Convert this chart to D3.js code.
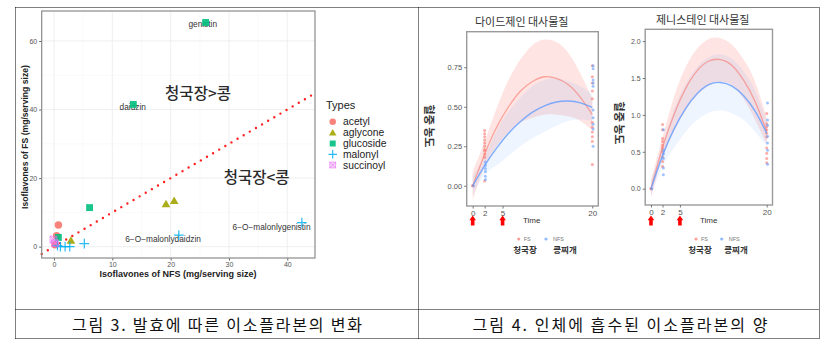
<!DOCTYPE html>
<html><head><meta charset="utf-8">
<script src="https://cdn.jsdelivr.net/npm/d3@7"></script>
<style>body{margin:0;background:#fff}</style>
</head><body><svg id="c" width="833" height="350"></svg>
<script>
// ---------- Figure 3 data ----------
const types = ["acetyl","aglycone","glucoside","malonyl","succinoyl"];
const typeColors = ["#F8766D","#A3A500","#00BF7D","#00B0F6","#E76BF3"];
const ptType = ["acetyl","acetyl","acetyl","aglycone","aglycone","aglycone","glucoside","glucoside","glucoside","glucoside",
                "malonyl","malonyl","malonyl","malonyl","malonyl","malonyl","malonyl","succinoyl","succinoyl"];
const ptNFS  = [0.75,0.45,0.2, 2.9,19.2,20.6, 26.0,13.6,6.1,0.75, 5.2,42.5,21.4,0.6,1.1,1.9,2.7, -0.1,0.17];
const ptFS   = [6.3,3.2,0.6,   1.75,12.4,13.4, 65.4,41.5,11.4,2.7, 0.9,7.0,3.4,0.3,0.0,0.0,0.0, 2.1,1.0];
const labelText = ["genistin","daidzin","6\u2212O\u2212malonlydaidzin","6\u2212O\u2212malonlygenistin"];
const labelNFS  = [25.5,13.5,18.7,37.3];
const labelFS   = [64.9,40.8,2.2,5.8];
const regionText = ["청국장>콩","청국장<콩"];
const regionNFS  = [24.7,34.75];
const regionFS   = [45.2,20.7];
const xTicks3 = [0,10,20,30,40];
const yTicks3 = [0,20,40,60];

// ---------- Figure 4 data ----------
const timeTicks = [0,2,5,20];
const arrowTimes = [0,5];
const curveT = [0,2,4,6,8,10,12,14,16,18,20];
const daidFS    = [0,0.20,0.37,0.50,0.60,0.66,0.69,0.68,0.64,0.56,0.45];
const daidFSlo  = [-0.09,0.12,0.25,0.34,0.40,0.43,0.45,0.45,0.44,0.41,0.35];
const daidFShi  = [0.09,0.28,0.49,0.67,0.80,0.89,0.925,0.91,0.84,0.71,0.55];
const daidNFS   = [0,0.128,0.238,0.332,0.407,0.466,0.506,0.530,0.536,0.525,0.496];
const daidNFSlo = [-0.06,0.07,0.13,0.19,0.25,0.30,0.34,0.38,0.41,0.42,0.41];
const daidNFShi = [0.06,0.19,0.35,0.47,0.56,0.63,0.67,0.68,0.66,0.63,0.58];
const genFS     = [0,0.56,1.01,1.36,1.60,1.73,1.75,1.67,1.47,1.18,0.77];
const genFSlo   = [-0.12,0.42,0.78,1.06,1.27,1.40,1.45,1.40,1.22,0.93,0.60];
const genFShi   = [0.12,0.70,1.25,1.65,1.90,2.03,2.04,1.95,1.75,1.45,0.95];
const genNFS    = [0,0.45,0.81,1.09,1.29,1.41,1.44,1.39,1.26,1.05,0.75];
const genNFSlo  = [-0.10,0.30,0.55,0.77,0.93,1.03,1.06,1.02,0.93,0.77,0.58];
const genNFShi  = [0.10,0.60,1.08,1.42,1.65,1.78,1.82,1.76,1.59,1.33,0.92];

const daidFSptT = [0,0,2,2,2,2,2,2,2,2,2,2,2,20,20,20,20,20,20,20,20,20,20,20];
const daidFSptV = [0,0,0.35,0.33,0.31,0.29,0.27,0.25,0.23,0.22,0.20,0.18,0.03,0.76,0.69,0.65,0.60,0.55,0.40,0.37,0.34,0.31,0.28,0.135];
const daidNFSptT = [0,2,2,2,2,2,2,20,20,20,20,20,20,20,20,20,20];
const daidNFSptV = [0,0.15,0.13,0.11,0.09,0.06,0.04,0.76,0.74,0.67,0.65,0.63,0.48,0.43,0.39,0.36,0.25];
const genFSptT = [0,0,2,2,2,2,2,2,2,2,2,2,20,20,20,20,20,20,20,20,20,20];
const genFSptV = [0,0,0.87,0.80,0.68,0.64,0.59,0.55,0.50,0.43,0.37,0.30,1.02,0.88,0.84,0.80,0.75,0.70,0.55,0.48,0.41,0.35];
const genNFSptT = [0,2,2,2,2,2,2,20,20,20,20,20,20,20];
const genNFSptV = [0,0.80,0.52,0.47,0.41,0.28,0.19,1.16,0.93,0.86,0.71,0.62,0.52,0.33];

const captions = ["그림 3. 발효에 따른 이소플라본의 변화","그림 4. 인체에 흡수된 이소플라본의 양"];

// ---------- drawing ----------
const svg = d3.select("#c");
const LAT = "'Liberation Sans', Arial, sans-serif";
const KR = "'Noto Sans CJK KR', sans-serif";
svg.append("rect").attr("width",833).attr("height",350).attr("fill","#fff");

// table frame
const frame = svg.append("g").attr("stroke","#000").attr("stroke-width",1).attr("stroke-dasharray","1,1").attr("fill","none");
[[15.5,7.5,819.5,7.5],[15.5,338.5,819.5,338.5],[15.5,309.5,819.5,309.5],
 [15.5,7.5,15.5,338.5],[819.5,7.5,819.5,338.5],[418.5,7.5,418.5,338.5]].forEach(l=>{
  frame.append("line").attr("x1",l[0]).attr("y1",l[1]).attr("x2",l[2]).attr("y2",l[3]);
});
svg.selectAll("text.cap").data(captions).join("text")
  .attr("x",(d,i)=>i===0?217:620).attr("y",324).attr("text-anchor","middle")
  .attr("dominant-baseline","central").attr("font-family",KR).attr("font-size",16)
  .attr("textLength",(d,i)=>i===0?290:295).attr("lengthAdjust","spacing")
  .attr("fill","#111").text(d=>d);

// ----- Figure 3 -----
const x3 = d3.scaleLinear().domain([-2.11,44.75]).range([41.7,315]);
const y3 = d3.scaleLinear().domain([-3.3,68.75]).range([258,11]);
const g3 = svg.append("g");
// gridlines
[5,15,25,35].forEach(v=>g3.append("line").attr("x1",x3(v)).attr("x2",x3(v)).attr("y1",11).attr("y2",258).attr("stroke","#f4f4f4").attr("stroke-width",0.5));
[10,30,50].forEach(v=>g3.append("line").attr("y1",y3(v)).attr("y2",y3(v)).attr("x1",41.7).attr("x2",315).attr("stroke","#f4f4f4").attr("stroke-width",0.5));
xTicks3.forEach(v=>g3.append("line").attr("x1",x3(v)).attr("x2",x3(v)).attr("y1",11).attr("y2",258).attr("stroke","#ededed").attr("stroke-width",0.9));
yTicks3.forEach(v=>g3.append("line").attr("y1",y3(v)).attr("y2",y3(v)).attr("x1",41.7).attr("x2",315).attr("stroke","#ededed").attr("stroke-width",0.9));

// axes
const ax3 = g3.append("g").attr("transform","translate(0,258)")
  .call(d3.axisBottom(x3).tickValues(xTicks3).tickSize(2.5).tickPadding(2));
const ay3 = g3.append("g").attr("transform","translate(41.7,0)")
  .call(d3.axisLeft(y3).tickValues(yTicks3).tickSize(2.5).tickPadding(2));
[ax3,ay3].forEach(a=>{
  a.select(".domain").remove();
  a.selectAll("line").attr("stroke","#666");
  a.selectAll("text").attr("font-family",LAT).attr("font-size",7).attr("fill","#555");
});
// y=x dotted line
g3.append("line").attr("x1",x3(-2.11)).attr("y1",y3(-2.11)).attr("x2",x3(44.6)).attr("y2",y3(44.6))
  .attr("stroke","#ff2020").attr("stroke-width",2.4).attr("stroke-linecap","round").attr("stroke-dasharray","0,7.1");

// labels
g3.selectAll("text.lab").data(labelText).join("text")
  .attr("x",(d,i)=>x3(labelNFS[i])).attr("y",(d,i)=>y3(labelFS[i]))
  .attr("text-anchor","middle").attr("dominant-baseline","central")
  .attr("font-family",LAT).attr("font-size",8.3).attr("fill","#333").text(d=>d);
g3.selectAll("text.reg").data(regionText).join("text")
  .attr("x",(d,i)=>x3(regionNFS[i])).attr("y",(d,i)=>y3(regionFS[i]))
  .attr("text-anchor","middle").attr("dominant-baseline","central")
  .attr("font-family",KR).attr("font-size",15.5).attr("font-weight",500).attr("fill","#2a2a2a").text(d=>d);

// symbols
const colorOf = d3.scaleOrdinal().domain(types).range(typeColors);
function drawSym(g, type, cx, cy, s){
  const c = colorOf(type);
  if(type==="acetyl") g.append("circle").attr("cx",cx).attr("cy",cy).attr("r",s*0.5).attr("fill",c).attr("opacity",0.9);
  else if(type==="aglycone") g.append("path").attr("d",`M${cx},${cy-s*0.58}L${cx+s*0.58},${cy+s*0.42}L${cx-s*0.58},${cy+s*0.42}Z`).attr("fill",c).attr("opacity",0.9);
  else if(type==="glucoside") g.append("rect").attr("x",cx-s*0.46).attr("y",cy-s*0.46).attr("width",s*0.92).attr("height",s*0.92).attr("fill",c).attr("opacity",0.9);
  else if(type==="malonyl") g.append("path").attr("d",`M${cx-s*0.65},${cy}H${cx+s*0.65}M${cx},${cy-s*0.65}V${cy+s*0.65}`).attr("stroke",c).attr("stroke-width",1.2).attr("fill","none").attr("opacity",0.85);
  else { const h=s*0.45;
    g.append("rect").attr("x",cx-h).attr("y",cy-h).attr("width",2*h).attr("height",2*h).attr("fill",c).attr("fill-opacity",0.25).attr("stroke",c).attr("stroke-opacity",0.6).attr("stroke-width",1);
    g.append("path").attr("d",`M${cx-h},${cy-h}L${cx+h},${cy+h}M${cx+h},${cy-h}L${cx-h},${cy+h}`).attr("stroke",c).attr("stroke-opacity",0.6).attr("stroke-width",1);
  }
}
ptType.forEach((t,i)=>drawSym(g3,t,x3(ptNFS[i]),y3(ptFS[i]),7.5));

// panel border
g3.append("rect").attr("x",41.7).attr("y",11).attr("width",315-41.7).attr("height",258-11)
  .attr("fill","none").attr("stroke","#8a8a8a").attr("stroke-width",1.2);
// titles
g3.append("text").attr("x",178).attr("y",274).attr("text-anchor","middle").attr("dominant-baseline","central")
  .attr("font-family",LAT).attr("font-size",9).attr("font-weight","bold").attr("fill","#222")
  .text("Isoflavones of NFS (mg/serving size)");
g3.append("text").attr("transform","translate(25,137) rotate(-90)").attr("text-anchor","middle").attr("dominant-baseline","central")
  .attr("font-family",LAT).attr("font-size",8.6).attr("font-weight","bold").attr("fill","#222")
  .text("Isoflavones of FS (mg/serving size)");
// legend
const lg = g3.append("g");
lg.append("text").attr("x",326).attr("y",105).attr("dominant-baseline","central").attr("font-family",LAT)
  .attr("font-size",11).attr("fill","#222").text("Types");
types.forEach((t,i)=>{
  const yy = [121.7,132.7,143.5,154.3,165][i];
  drawSym(lg,t,332.7,yy,6.5);
  lg.append("text").attr("x",343).attr("y",yy).attr("dominant-baseline","central").attr("font-family",LAT)
    .attr("font-size",10.3).attr("fill","#222").text(t);
});

// ----- Figure 4 -----
const FSc = "#F8766D", NFSc = "#619CFF";
function panel(cfg){
  const x = d3.scaleLinear().domain([-1,21]).range(cfg.xr);
  const y = d3.scaleLinear().domain(cfg.yd).range(cfg.yr);
  const g = svg.append("g");
  const area = (lo,hi)=>d3.area().x((d,i)=>x(curveT[i])).y0((d,i)=>y(lo[i])).y1((d,i)=>y(hi[i])).curve(d3.curveNatural)(curveT);
  const line = (v)=>d3.line().x((d,i)=>x(curveT[i])).y((d,i)=>y(v[i])).curve(d3.curveNatural)(curveT);
  g.append("path").attr("d",area(cfg.fsLo,cfg.fsHi)).attr("fill",FSc).attr("opacity",0.2);
  g.append("path").attr("d",area(cfg.nfsLo,cfg.nfsHi)).attr("fill",NFSc).attr("opacity",0.1);
  cfg.fsT.forEach((t,i)=>g.append("circle").attr("cx",x(t)).attr("cy",y(cfg.fsV[i])).attr("r",1.5).attr("fill",FSc).attr("opacity",0.6));
  cfg.nfsT.forEach((t,i)=>g.append("circle").attr("cx",x(t)+0.8).attr("cy",y(cfg.nfsV[i])).attr("r",1.5).attr("fill",NFSc).attr("opacity",0.6));
  g.append("path").attr("d",line(cfg.fs)).attr("fill","none").attr("stroke",FSc).attr("stroke-opacity",0.6).attr("stroke-width",1.3);
  g.append("path").attr("d",line(cfg.nfs)).attr("fill","none").attr("stroke",NFSc).attr("stroke-opacity",0.8).attr("stroke-width",1.4);
  g.append("rect").attr("x",cfg.xr[0]).attr("y",cfg.yr[1]).attr("width",cfg.xr[1]-cfg.xr[0]).attr("height",cfg.yr[0]-cfg.yr[1])
    .attr("fill","none").attr("stroke","#9a9a9a").attr("stroke-width",1.4);
  const ax = g.append("g").attr("transform",`translate(0,${cfg.yr[0]})`).call(d3.axisBottom(x).tickValues(timeTicks).tickSize(2.5).tickPadding(1.5));
  const ay = g.append("g").attr("transform",`translate(${cfg.xr[0]},0)`).call(d3.axisLeft(y).tickValues(cfg.yt).tickFormat(d3.format(cfg.fmt)).tickSize(2.5).tickPadding(2));
  [ax,ay].forEach(a=>{ a.select(".domain").remove(); a.selectAll("line").attr("stroke","#777");
    a.selectAll("text").attr("font-family",LAT).attr("font-size",cfg.fs_).attr("fill","#555"); });
  ax.selectAll("text").attr("font-size",8);
  // arrows
  arrowTimes.forEach(t=>{ const cx=x(t);
    g.append("path").attr("d",`M${cx-1.8},225.5V220.3H${cx-3.3}L${cx},215.5L${cx+3.3},220.3H${cx+1.8}V225.5Z`).attr("fill","#ff0000"); });
  g.append("text").attr("x",cfg.timeX).attr("y",220).attr("text-anchor","middle").attr("dominant-baseline","central")
    .attr("font-family",LAT).attr("font-size",8).attr("fill","#333").text("Time");
  g.append("text").attr("x",cfg.titleX).attr("y",cfg.titleY).attr("text-anchor","middle").attr("dominant-baseline","central")
    .attr("font-family",KR).attr("font-size",11).attr("fill","#333").text(cfg.title);
  g.append("text").attr("transform",`translate(${cfg.ytX},${cfg.ytY}) rotate(90)`).attr("text-anchor","middle").attr("dominant-baseline","central")
    .attr("font-family",KR).attr("font-size",11).attr("font-weight","bold").attr("fill","#333").text("혈중 농도");
  // legend
  const L = cfg.leg;
  g.append("circle").attr("cx",L[0]).attr("cy",239).attr("r",1.6).attr("fill",FSc).attr("opacity",0.7);
  g.append("text").attr("x",L[0]+5).attr("y",239).attr("dominant-baseline","central").attr("font-family",LAT).attr("font-size",5.5).attr("fill","#777").text("FS");
  g.append("circle").attr("cx",L[1]).attr("cy",239).attr("r",1.6).attr("fill",NFSc).attr("opacity",0.7);
  g.append("text").attr("x",L[1]+7).attr("y",239).attr("dominant-baseline","central").attr("font-family",LAT).attr("font-size",5.5).attr("fill","#777").text("NFS");
  g.append("text").attr("x",L[2]).attr("y",249).attr("text-anchor","middle").attr("dominant-baseline","central").attr("font-family",KR).attr("font-size",8.5).attr("font-weight","bold").attr("fill","#333").text("청국장");
  g.append("text").attr("x",L[3]).attr("y",249).attr("text-anchor","middle").attr("dominant-baseline","central").attr("font-family",KR).attr("font-size",8.5).attr("font-weight","bold").attr("fill","#333").text("콩찌개");
}
panel({xr:[466.7,598.3], yr:[206,31.7], yd:[-0.128,0.975], yt:[0,0.25,0.5,0.75], fmt:".2f", fs_:7.5,
  fs:daidFS, fsLo:daidFSlo, fsHi:daidFShi, nfs:daidNFS, nfsLo:daidNFSlo, nfsHi:daidNFShi,
  fsT:daidFSptT, fsV:daidFSptV, nfsT:daidNFSptT, nfsV:daidNFSptV,
  title:"다이드제인 대사물질", titleX:521.7, titleY:20.7, timeX:531.7, ytX:430, ytY:126, leg:[518.7,546,525,565]});
panel({xr:[645.2,772.5], yr:[205,29.3], yd:[-0.221,2.16], yt:[0,0.5,1,1.5,2], fmt:".1f", fs_:7,
  fs:genFS, fsLo:genFSlo, fsHi:genFShi, nfs:genNFS, nfsLo:genNFSlo, nfsHi:genNFShi,
  fsT:genFSptT, fsV:genFSptV, nfsT:genNFSptT, nfsV:genNFSptV,
  title:"제니스테인 대사물질", titleX:702.7, titleY:19, timeX:708.7, ytX:620, ytY:123, leg:[696,721.7,700,736]});
</script></body></html>
